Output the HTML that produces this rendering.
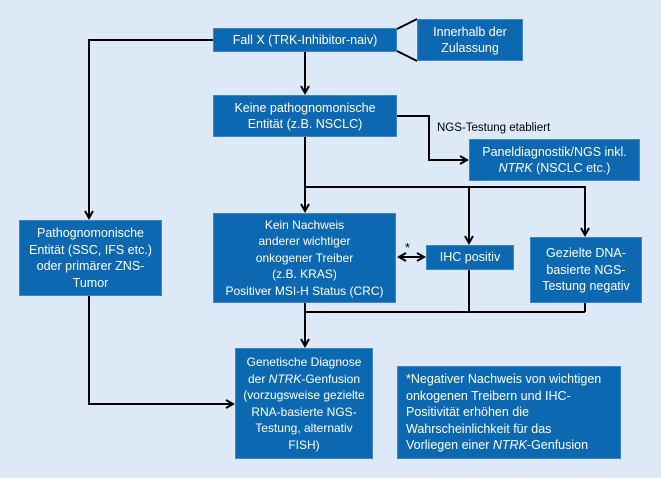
<!DOCTYPE html>
<html><head><meta charset="utf-8"><style>
body{margin:0;width:661px;height:478px;background:#dde9f6;position:relative;overflow:hidden;font-family:"Liberation Sans",sans-serif}
.b{position:absolute;background:#0c68b1;color:#fff;font-size:12.5px;line-height:16.5px;display:flex;align-items:center;justify-content:center;text-align:center;box-sizing:border-box;border:1px solid #3b86c4}
.b>div{width:100%}
svg{position:absolute;left:0;top:0}
</style></head><body>
<svg width="661" height="478" viewBox="0 0 661 478">
<defs><marker id="a" markerWidth="10" markerHeight="10" refX="8" refY="5" orient="auto" markerUnits="userSpaceOnUse"><path d="M1,1 L8,5 L1,9" fill="none" stroke="#000" stroke-width="2"/></marker>
<marker id="s" markerWidth="10" markerHeight="10" refX="2" refY="5" orient="auto" markerUnits="userSpaceOnUse"><path d="M9,1 L2,5 L9,9" fill="none" stroke="#000" stroke-width="2"/></marker></defs>
<g stroke="#000" stroke-width="2" fill="none">
<path d="M213,40 H89 V218" marker-end="url(#a)"/>
<path d="M89,296 V404 H233" marker-end="url(#a)"/>
<path d="M397,29 L417,19 M397,51 L417,61"/>
<path d="M305,52 V93" marker-end="url(#a)"/>
<path d="M397,116 H429 V160 H467" marker-end="url(#a)"/>
<path d="M305,137 V211" marker-end="url(#a)"/>
<path d="M305,187 H585 V235" marker-end="url(#a)"/>
<path d="M469,187 V243" marker-end="url(#a)"/>
<path d="M469,269 V312 M585,303 V312 M305,312 H585"/>
<path d="M305,303 V346" marker-end="url(#a)"/>
<path d="M399,257 H424" marker-start="url(#s)" marker-end="url(#a)"/>
</g>
<text x="405" y="252" font-size="13" font-family="Liberation Sans">*</text>
<text x="437" y="131" font-size="11.5" font-family="Liberation Sans">NGS-Testung etabliert</text>
</svg>
<div class="b" style="left:213px;top:28px;width:184px;height:24px"><div>Fall X (TRK-Inhibitor-naiv)</div></div>
<div class="b" style="left:417px;top:19px;width:106px;height:42px"><div>Innerhalb der<br>Zulassung</div></div>
<div class="b" style="left:213px;top:95px;width:184px;height:42px"><div>Keine pathognomonische<br>Entität (z.B. NSCLC)</div></div>
<div class="b" style="left:469px;top:139px;width:171px;height:42px"><div>Paneldiagnostik/NGS inkl.<br><i>NTRK</i> (NSCLC etc.)</div></div>
<div class="b" style="left:19px;top:220px;width:143px;height:76px"><div>Pathognomonische<br>Entität (SSC, IFS etc.)<br>oder primärer ZNS-<br>Tumor</div></div>
<div class="b" style="left:213px;top:213px;width:183px;height:90px;font-size:12px;line-height:16.5px"><div>Kein Nachweis<br>anderer wichtiger<br>onkogener Treiber<br>(z.B. KRAS)<br>Positiver MSI-H Status (CRC)</div></div>
<div class="b" style="left:426px;top:245px;width:88px;height:25px"><div>IHC positiv</div></div>
<div class="b" style="left:530px;top:237px;width:112px;height:66px"><div>Gezielte DNA-<br>basierte NGS-<br>Testung negativ</div></div>
<div class="b" style="left:235px;top:348px;width:138px;height:111px;font-size:12px"><div>Genetische Diagnose<br>der <i>NTRK</i>-Genfusion<br>(vorzugsweise gezielte<br>RNA-basierte NGS-<br>Testung, alternativ<br>FISH)</div></div>
<div class="b" style="left:397px;top:366px;width:224px;height:93px;text-align:left;padding-left:8px"><div>*Negativer Nachweis von wichtigen<br>onkogenen Treibern und IHC-<br>Positivität erhöhen die<br>Wahrscheinlichkeit für das<br>Vorliegen einer <i>NTRK</i>-Genfusion</div></div>
</body></html>
